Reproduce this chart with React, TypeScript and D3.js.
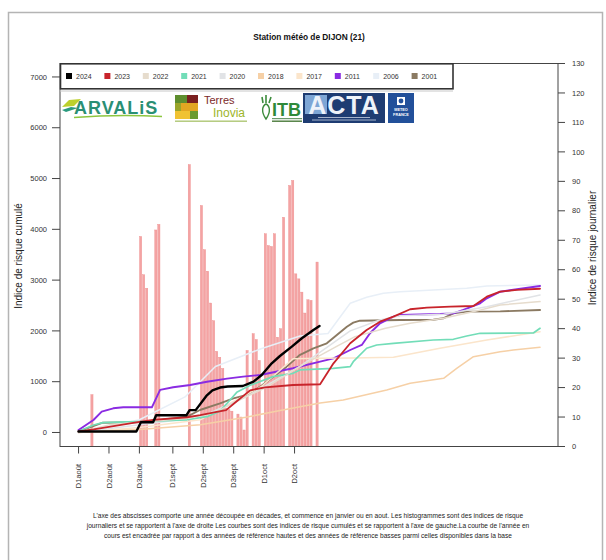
import React from "react";
import * as d3 from "d3";

// ---- data ----
const years = ["2024", "2023", "2022", "2021", "2020", "2018", "2017", "2011", "2006", "2001"];
const yearColors = ["#000000", "#C8242B", "#E6DCCD", "#72DDB8", "#E1E3E6", "#F6D0A6", "#FBE5CB", "#8A2BE2", "#E8EFF7", "#8B7A62"];
const yearWidths = [2.4, 1.8, 1.5, 1.7, 1.5, 1.5, 1.5, 1.9, 1.5, 1.9];

// day 0 = 1st of August
const days2024 = [0, 19, 20.5, 24.5, 25.5, 35.5, 36.5, 38.5, 42, 44, 46.5, 49, 54, 57.5, 60.2, 63.5, 66.2, 70.1, 73.4, 77.2, 79.2];
const cum2024 = [20, 20, 200, 200, 340, 340, 440, 440, 720, 830, 885, 905, 915, 1000, 1132, 1362, 1506, 1690, 1855, 2018, 2097];

const days2023 = [0, 5, 19, 24.5, 35.7, 40, 45, 48.5, 51.5, 56.4, 61.3, 70.5, 79.4, 83.8, 89.3, 94.7, 99.1, 103.5, 109, 114.5, 122.2, 129.8, 134.2, 138.6, 144.1, 151.7];
const cum2023 = [20, 60, 200, 250, 300, 340, 400, 440, 590, 830, 890, 935, 950, 1362, 1756, 2018, 2182, 2280, 2426, 2458, 2477, 2490, 2674, 2772, 2806, 2830];

const days2022 = [0, 10, 20, 36, 45, 55, 62, 72.8, 85, 90.9, 100.9, 109, 120, 130, 138.6, 151.7];
const cum2022 = [0, 150, 200, 280, 400, 700, 900, 1300, 1700, 1887, 2051, 2150, 2250, 2380, 2510, 2577];

const days2021 = [0, 4.9, 8, 19.2, 35.7, 42.2, 46.5, 49.8, 52, 56.4, 63.9, 70.5, 72.8, 83.7, 89.3, 90.3, 94.7, 98, 103.5, 116.6, 123.2, 127.6, 132, 149.5, 151.7];
const cum2021 = [20, 148, 193, 215, 250, 311, 420, 640, 790, 930, 1099, 1165, 1231, 1264, 1296, 1394, 1658, 1723, 1756, 1821, 1835, 1900, 1953, 1960, 2051];

const days2020 = [0, 20, 40, 55, 72.8, 89.3, 99, 105.7, 120, 134.2, 151.7];
const cum2020 = [0, 150, 300, 700, 1300, 2000, 2215, 2300, 2330, 2477, 2707];

const days2018 = [0, 20, 40, 55, 65, 72.8, 79.4, 87, 101.3, 109, 120, 124.3, 129.8, 138.6, 142.9, 151.7];
const cum2018 = [0, 60, 150, 300, 420, 508, 580, 640, 837, 968, 1067, 1264, 1493, 1591, 1624, 1677];

const days2017 = [0, 20, 40, 50, 60, 70.5, 79.4, 90, 103.5, 118.8, 134.2, 151.7];
const cum2017 = [0, 100, 250, 580, 900, 1450, 1460, 1465, 1480, 1658, 1821, 1985];

const days2011 = [0, 4.9, 7.6, 11.4, 14.7, 24.1, 26.8, 31.1, 36.7, 42.2, 48.8, 54.1, 59.7, 70.5, 79.4, 83.8, 89.3, 93.1, 95.8, 99.1, 103.5, 105.7, 118.8, 123.2, 126.5, 132, 134.2, 138.6, 144.1, 151.7];
const cum2011 = [49, 246, 410, 476, 496, 496, 840, 890, 935, 1000, 1060, 1099, 1132, 1264, 1394, 1460, 1624, 1723, 1953, 2150, 2280, 2313, 2333, 2346, 2412, 2544, 2642, 2772, 2820, 2884];

const days2006 = [0, 20, 35, 45, 60, 72.8, 82, 89.3, 94.7, 100.2, 105.7, 116.6, 127.6, 134.2, 151.7];
const cum2006 = [0, 250, 700, 1300, 1650, 1900, 1950, 2544, 2662, 2741, 2772, 2806, 2839, 2884, 2904];

const days2001 = [0, 8, 19.2, 24.5, 35.7, 39.9, 46.5, 50.9, 55.3, 59.7, 64, 68.4, 72.8, 77.2, 81.6, 84.9, 88.2, 90.3, 92.5, 105.7, 116.6, 119.9, 123.2, 127.6, 138.6, 151.7];
const cum2001 = [20, 193, 200, 232, 311, 443, 575, 673, 738, 902, 1099, 1296, 1530, 1658, 1756, 1920, 2083, 2162, 2201, 2215, 2220, 2248, 2346, 2379, 2385, 2412];

// daily risk index of 2024 (right axis)
const barDays = [4, 20, 21, 22, 25, 26, 36, 40, 41, 42, 43, 44, 45, 46, 47, 48, 49, 50, 52, 53, 54, 55, 57, 58, 59, 61, 62, 63, 64, 65, 66, 67, 69, 70, 71, 72, 73, 74, 75, 76, 78];
const barValues = [17.6, 71.3, 58.3, 53.7, 73.5, 75.4, 95.7, 81.8, 66.8, 59.5, 48.7, 42.7, 32.3, 30.3, 26.5, 13, 12.5, 12, 11, 10, 5.6, 32.6, 38.3, 36.3, 29.2, 72.2, 68.2, 67.9, 72.2, 37.1, 40, 77.8, 88.6, 90.3, 58.6, 56.9, 52.4, 45.3, 49.8, 49.6, 62.6];

const xTickDays = [0, 10, 20, 31, 41, 51, 61, 71];
const xTickLabels = ["D1août", "D2août", "D3août", "D1sept", "D2sept", "D3sept", "D1oct", "D2oct"];
const leftTicks = [0, 1000, 2000, 3000, 4000, 5000, 6000, 7000];
const rightTicks = [0, 10, 20, 30, 40, 50, 60, 70, 80, 90, 100, 110, 120, 130];

const seriesDays = [days2024, days2023, days2022, days2021, days2020, days2018, days2017, days2011, days2006, days2001];
const seriesCum = [cum2024, cum2023, cum2022, cum2021, cum2020, cum2018, cum2017, cum2011, cum2006, cum2001];

const noteLines = [
  "L'axe des abscisses comporte une année découpée en décades, et commence en janvier  ou en aout. Les histogrammes sont des indices de risque",
  "journaliers et se rapportent à l'axe de droite Les courbes sont des indices de risque cumulés et se rapportent à l'axe de gauche.La courbe de l'année en",
  "cours est encadrée par rapport à des années de référence hautes et des années de référence basses parmi celles disponibles dans la base",
];

const FONT = "'Liberation Sans', Arial, Helvetica, sans-serif";

const Logos = () => (
  <g>
    <line x1={60} x2={453} y1={91} y2={91} stroke="#c8c8c8" strokeWidth={1} />
    {/* ARVALIS */}
    <polygon points="62,107 69,100 81,99 74,106" fill="#BCD02C" />
    <polygon points="62,110 71,107 78,108 66,112" fill="#2A9A7E" />
    <text x={74} y={114} fontSize={18} fontWeight="bold" fill="#2A8F74" letterSpacing={1} fontFamily={FONT}>ARVALiS</text>
    <path d="M74,117.5 Q118,114 162,116.5" fill="none" stroke="#8CC63F" strokeWidth={1.6} />
    {/* Terres Inovia */}
    <rect x={175} y={95} width={12} height={8} fill="#5E8E2E" />
    <rect x={187} y={95} width={11} height={8} fill="#7A1F1F" />
    <rect x={175} y={103} width={6} height={8} fill="#9AA52A" />
    <rect x={181} y={103} width={17} height={8} fill="#E2A622" />
    <rect x={175} y={111} width={15} height={8} fill="#F0C232" />
    <rect x={190} y={111} width={8} height={8} fill="#6B9B30" />
    <text x={204} y={104} fontSize={11} fill="#7B2A2A" fontFamily={FONT}>Terres</text>
    <text x={213} y={116.5} fontSize={12} fill="#9DB52A" fontFamily={FONT}>Inovia</text>
    <rect x={175} y={120.5} width={72} height={1.4} fill="#8BAE3A" opacity={0.7} />
    {/* ITB */}
    <path d="M266,104 C262,106 261,112 266,119 C271,112 270,106 266,104 Z" fill="none" stroke="#3C8C3C" strokeWidth={1.4} />
    <path d="M263,103 L262,97 M266,103 L266,95 M269,103 L271,97" stroke="#3C8C3C" strokeWidth={1.6} />
    <text x={272} y={116} fontSize={18} fontWeight="bold" fill="#2F8A3A" fontFamily={FONT}>ITB</text>
    <rect x={272} y={118} width={30} height={1.2} fill="#6c9a6c" />
    <rect x={272} y={120.5} width={30} height={1.4} fill="#4a7a3a" />
    {/* ACTA */}
    <rect x={303} y={93} width={82} height={30} fill="#1E3C72" />
    <rect x={305} y={95} width={22} height={19} fill="#8FB9E6" opacity={0.85} />
    <text x={344} y={114} textAnchor="middle" fontSize={25} fontWeight="bold" fill="#EEF3FA" letterSpacing={1} fontFamily={FONT}>ACTA</text>
    <line x1={318} x2={370} y1={117.5} y2={117.5} stroke="#dfe7f3" strokeWidth={0.7} />
    <line x1={312} x2={376} y1={120} y2={120} stroke="#dfe7f3" strokeWidth={0.7} />
    {/* Météo France */}
    <rect x={388} y={93} width={26} height={30} fill="#22509A" />
    <rect x={397} y={97} width={8} height={8} fill="#ffffff" />
    <circle cx={401} cy={101} r={2.4} fill="#22509A" />
    <text x={401} y={111} textAnchor="middle" fontSize={3.8} fontWeight="bold" fill="#ffffff" fontFamily={FONT}>METEO</text>
    <text x={401} y={115.5} textAnchor="middle" fontSize={3.8} fontWeight="bold" fill="#ffffff" fontFamily={FONT}>FRANCE</text>
  </g>
);

export default function App() {
  const x = d3.scaleLinear().domain([-6.1, 157.6]).range([60, 558]);
  const yL = d3.scaleLinear().domain([-276, 7265]).range([446.5, 63.5]);
  const yR = d3.scaleLinear().domain([0, 130]).range([446.5, 63.5]);

  const line = d3
    .line<[number, number]>()
    .x((d) => x(d[0]))
    .y((d) => yL(d[1]));

  const order = d3.range(years.length).reverse(); // 2024 drawn last
  const barW = 2.2;

  return (
    <div style={{ position: "absolute", left: 0, top: 0 }}>
      <svg width={606} height={560} style={{ display: "block", background: "#fff" }} fontFamily={FONT}>
        <rect x={8.5} y={12.5} width={594} height={600} fill="none" stroke="#b4b4b4" strokeWidth={1.5} />

        <text x={309} y={40} textAnchor="middle" fontSize={8.3} fontWeight="bold" fill="#111">
          Station météo de DIJON (21)
        </text>

        {/* daily bars */}
        <g>
          {barDays.map((d, i) => (
            <rect
              key={i}
              x={x(d + 0.4) - barW / 2}
              y={yR(barValues[i])}
              width={barW}
              height={yR(0) - yR(barValues[i])}
              fill="#F4A3A3"
              stroke="#EE8E8E"
              strokeWidth={0.4}
            />
          ))}
        </g>

        {/* cumulative curves */}
        <g fill="none" strokeLinejoin="round" strokeLinecap="round">
          {order.map((k) => (
            <path
              key={years[k]}
              d={line(seriesDays[k].map((d, i) => [d, seriesCum[k][i]] as [number, number])) || ""}
              stroke={yearColors[k]}
              strokeWidth={yearWidths[k]}
            />
          ))}
        </g>

        {/* box */}
        <rect x={60} y={63.5} width={498} height={383} fill="none" stroke="#444" strokeWidth={1} />

        {/* left axis */}
        <g fontSize={7.5} fill="#333">
          {leftTicks.map((t) => (
            <g key={t}>
              <line x1={52} x2={60} y1={yL(t)} y2={yL(t)} stroke="#444" />
              <text x={47} y={yL(t)} dy="0.35em" textAnchor="end">{t}</text>
            </g>
          ))}
        </g>
        {/* right axis */}
        <g fontSize={7.5} fill="#333">
          {rightTicks.map((t) => (
            <g key={t}>
              <line x1={558} x2={565} y1={yR(t)} y2={yR(t)} stroke="#444" />
              <text x={572} y={yR(t)} dy="0.35em">{t}</text>
            </g>
          ))}
        </g>
        {/* x axis */}
        <g fontSize={7.5} fill="#333">
          {xTickDays.map((d, i) => (
            <g key={d}>
              <line x1={x(d)} x2={x(d)} y1={446.5} y2={453.5} stroke="#444" />
              <text transform={`translate(${x(d)},464) rotate(-90)`} dy="0.35em" textAnchor="end">
                {xTickLabels[i]}
              </text>
            </g>
          ))}
        </g>

        <text transform="translate(22,256) rotate(-90)" textAnchor="middle" fontSize={10} fill="#222">
          Indice de risque cumulé
        </text>
        <text transform="translate(596,248) rotate(-90)" textAnchor="middle" fontSize={10} fill="#222">
          Indice de risque journalier
        </text>

        {/* legend */}
        <rect x={60.5} y={63.8} width={392.5} height={25} fill="#fff" stroke="#333" strokeWidth={1.6} />
        <g fontSize={7} fill="#333">
          {years.map((yr, i) => (
            <g key={yr}>
              <rect x={66 + 38.4 * i} y={73} width={6} height={6} fill={yearColors[i]} />
              <text x={76 + 38.4 * i} y={76.2} dy="0.35em">{yr}</text>
            </g>
          ))}
        </g>

        <Logos />

        <g fontSize={6.6} fill="#222" textAnchor="middle">
          {noteLines.map((t, i) => (
            <text key={i} x={308} y={518 + 10 * i}>{t}</text>
          ))}
        </g>
      </svg>
    </div>
  );
}
